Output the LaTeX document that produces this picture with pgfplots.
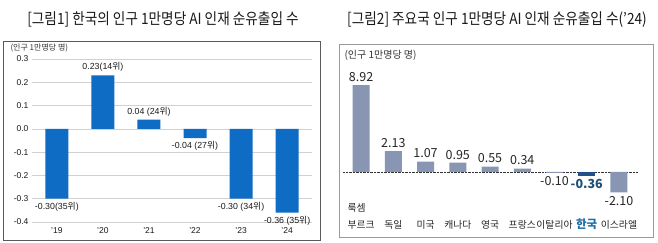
\documentclass[border=0pt]{standalone}
\usepackage{pgfplots}
\pgfplotsset{compat=1.18}
\usepackage{fontspec}
\setmainfont{Noto Sans CJK KR}
\newfontfamily\arial{Liberation Sans}
\newfontfamily\kr{Noto Sans CJK KR}
\definecolor{barblue}{HTML}{0E6CC4}
\definecolor{bargray}{HTML}{8896B4}
\definecolor{barkorea}{HTML}{24508A}
\definecolor{krlabel}{HTML}{1B6FA6}
\definecolor{krnum}{HTML}{1F4E79}
\definecolor{framedark}{HTML}{5A5A5A}
\definecolor{framelight}{HTML}{9A9A9A}

\begin{document}
\begin{tikzpicture}
\path[use as bounding box, fill=white] (0pt,0pt) rectangle (658pt,243pt);

% panel titles
\node[font=\fontsize{15.5}{17}\selectfont, text=black!90] at (163pt,223.5pt)
  {\scalebox{0.88}[1]{[그림1] 한국의 인구 1만명당 AI 인재 순유출입 수}};
\node[font=\fontsize{15.5}{17}\selectfont, text=black!90] at (497pt,223.5pt)
  {\scalebox{0.88}[1]{[그림2] 주요국 인구 1만명당 AI 인재 순유출입 수(’24)}};

% panel frames
\draw[framedark, line width=0.8pt] (3pt,3pt) rectangle (320pt,202pt);
\draw[framelight, line width=0.8pt] (339pt,6pt) rectangle (653pt,199pt);

% unit notes
\node[anchor=west, font=\fontsize{8}{9}\selectfont, text=black!80] at (7pt,195pt) {(인구 1만명당 명)};
\node[anchor=west, font=\fontsize{10}{12}\selectfont, text=black!80] at (341pt,188pt) {(인구 1만명당 명)};

% left: Korea by year
\begin{axis}[
  at={(32pt,21pt)}, anchor=south west, scale only axis,
  width=280pt, height=163pt,
  xmin=-0.54, xmax=5.54, ymin=-0.4, ymax=0.3,
  ytick={-0.4,-0.3,-0.2,-0.1,0,0.1,0.2,0.3},
  ymajorgrids, grid style={black!18, line width=0.6pt},
  axis line style={draw=none}, major tick length=0pt,
  xtick={0,...,5}, xticklabels={’19,’20,’21,’22,’23,’24},
  tick label style={font=\arial\fontsize{8.5}{10}\selectfont, text=black!90},
  x tick label style={yshift=-2pt},
  /pgf/number format/assume math mode=true,
  yticklabel style={/pgf/number format/fixed, /pgf/number format/fixed zerofill, /pgf/number format/precision=1},
  ybar, bar width=23pt, clip=false,
  point meta=explicit symbolic, nodes near coords,
  nodes near coords style={font=\arial\fontsize{8.8}{10}\selectfont, text=black!90},
]
\addplot[fill=barblue, draw=none, bar shift=0pt,
  every node near coord/.append style={anchor=south}]
  coordinates {(1,0.23) [0.23(14{\kr 위})] (2,0.04) [0.04 (24{\kr 위})]};
\addplot[fill=barblue, draw=none, bar shift=0pt,
  every node near coord/.append style={anchor=north}]
  coordinates {(0,-0.30) [-0.30(35{\kr 위})] (3,-0.04) [-0.04 (27{\kr 위})]
               (4,-0.30) [-0.30 (34{\kr 위})] (5,-0.36) [-0.36 (35{\kr 위})]};
\end{axis}

% right: major countries, 2024
\begin{axis}[
  at={(343pt,41.75pt)}, anchor=south west, scale only axis,
  width=295pt, height=126.75pt,
  xmin=-0.56, xmax=8.59, ymin=-3, ymax=10,
  axis line style={draw=none}, major tick length=0pt,
  ytick=\empty,
  extra y ticks={0}, extra y tick labels={},
  extra y tick style={grid=major, grid style={black!80, densely dotted, line width=0.7pt}},
  xtick={0,...,8},
  xticklabels={{\begin{tabular}[b]{@{}l@{}}룩셈\\[5pt]부르크\end{tabular}},독일,미국,캐나다,영국,프랑스,이탈리아,{\color{krlabel}\fontsize{11.5}{13}\selectfont\bfseries 한국},이스라엘},
  x tick label style={anchor=base, yshift=-27pt, font=\fontsize{9.8}{12}\selectfont, text=black!85},
  ybar, bar width=17pt, clip=false,
  nodes near coords,
  nodes near coords style={font=\fontsize{12.5}{14}\selectfont, text=black!85,
    /pgf/number format/fixed, /pgf/number format/fixed zerofill,
    /pgf/number format/precision=2, /pgf/number format/assume math mode=true},
]
\addplot[fill=bargray, draw=none, bar shift=0pt,
  every node near coord/.append style={anchor=south}]
  coordinates {(0,8.92) (1,2.13) (2,1.07) (3,0.95) (4,0.55) (5,0.34)};
\addplot[fill=bargray, draw=none, bar shift=0pt,
  every node near coord/.append style={anchor=north}]
  coordinates {(6,-0.10) (8,-2.10)};
\addplot[fill=barkorea, draw=none, bar shift=0pt,
  every node near coord/.append style={anchor=north, text=krnum, font=\fontsize{12.5}{14}\selectfont\bfseries}]
  coordinates {(7,-0.36)};
\end{axis}
\end{tikzpicture}
\end{document}
